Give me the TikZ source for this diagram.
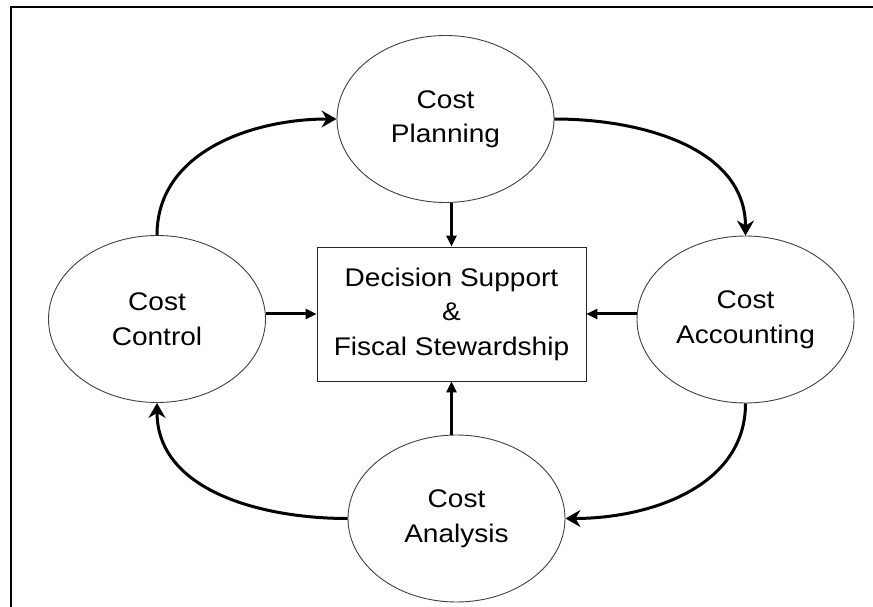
\documentclass[tikz,border=0pt]{standalone}
\usepackage{fontspec}
\setmainfont[FakeStretch=1.1]{Liberation Sans}
\usepackage{tikz}
\usetikzlibrary{shapes.geometric,arrows.meta}

\begin{document}
\begin{tikzpicture}[x=1pt,y=1pt,
  stage/.style={ellipse,draw=black!75,line width=0.9pt,minimum width=217pt,minimum height=167pt,inner sep=0pt,align=center,font=\fontsize{25.5}{34.5}\selectfont},
  hub/.style={rectangle,draw=black!85,line width=0.9pt,minimum width=269pt,minimum height=134pt,inner sep=0pt,align=center,font=\fontsize{25.5}{34.5}\selectfont},
  cycle/.style={line width=3pt,-{Stealth[length=15pt,width=17pt,inset=5pt]}},
  feed/.style={line width=3pt,-{Triangle[length=11pt,width=10pt]}}]
\useasboundingbox (0,0) rectangle (873,606);
\draw[line width=2pt] (10.5,-20) rectangle (900,599);
\node[stage] (plan) at (445.5,487) {Cost\\Planning};
\node[stage] (ctrl) at (157,287) {Cost\\Control};
\node[stage] (acct) at (745.5,286.5) {Cost\\Accounting};
\node[stage] (ana) at (456.5,87.5) {Cost\\Analysis};
\node[hub] (box) at (451.5,292) {Decision Support\\\&\\Fiscal Stewardship};
\draw[cycle] (ctrl.north) to[out=90,in=180] (plan.west);
\draw[cycle] (plan.east) to[out=0,in=90] (acct.north);
\draw[cycle] (acct.south) to[out=-90,in=0] (ana.east);
\draw[cycle] (ana.west) to[out=180,in=-90] (ctrl.south);
\draw[feed] (box.north |- plan.south) -- (box.north);
\draw[feed] (ctrl.east |- box.west) -- (box.west);
\draw[feed] (acct.west |- box.east) -- (box.east);
\draw[feed] (box.south |- ana.north) -- (box.south);
\end{tikzpicture}
\end{document}
